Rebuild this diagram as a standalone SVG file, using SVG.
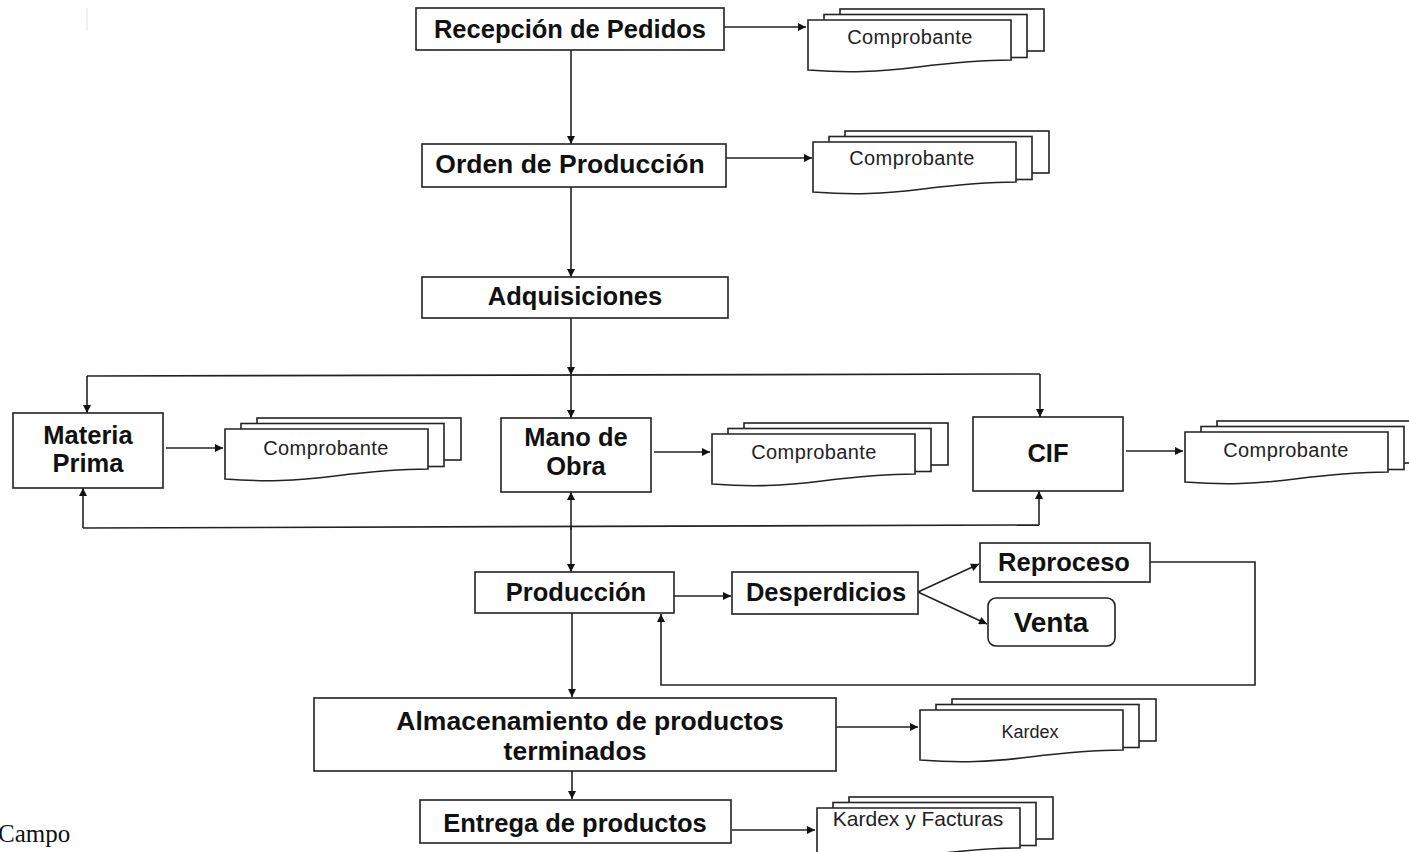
<svg xmlns="http://www.w3.org/2000/svg" xmlns:xlink="http://www.w3.org/1999/xlink" width="1409" height="852" viewBox="0 0 1409 852">
<style>
.box{fill:#fff;stroke:#222;stroke-width:1.6}
.lbl{font-family:"Liberation Sans",Arial,sans-serif;font-weight:bold;font-size:25.5px;fill:#111;text-anchor:middle}
.doc{font-family:"Liberation Sans",Arial,sans-serif;font-size:20px;fill:#222;text-anchor:middle;letter-spacing:0.4px}
.ln{fill:none;stroke:#222;stroke-width:1.6}
.page{fill:#fff;stroke:#222;stroke-width:1.6}
</style>
<defs>
<marker id="ah" viewBox="0 0 10 10" refX="10" refY="5" markerWidth="10" markerHeight="8" markerUnits="userSpaceOnUse" orient="auto">
<path d="M0,0 L10,5 L0,10 Z" fill="#111"/>
</marker>
<g id="mdoc">
<rect class="page" x="32" y="-11" width="204" height="42"/>
<rect class="page" x="16" y="-5.5" width="203" height="43"/>
<path class="page" d="M0,0 H203 V40 C175,40 150,42 110,47 C70,52 40,53 0,50 Z"/>
</g>
</defs>
<rect width="1409" height="852" fill="#fff"/>
<line x1="87" y1="8" x2="87" y2="31" stroke="#eee" stroke-width="1.5"/>

<g id="connectors">
<path class="ln" d="M724,27 H806" marker-end="url(#ah)"/>
<path class="ln" d="M571,50 V144" marker-end="url(#ah)"/>
<path class="ln" d="M726,158 H812" marker-end="url(#ah)"/>
<path class="ln" d="M571,187 V277" marker-end="url(#ah)"/>
<path class="ln" d="M571,318 V375" marker-end="url(#ah)"/>
<path class="ln" d="M571,375 V418" marker-end="url(#ah)"/>
<path class="ln" d="M87,376 L1040,374"/>
<path class="ln" d="M87,376 V413" marker-end="url(#ah)"/>
<path class="ln" d="M1040,374 V417" marker-end="url(#ah)"/>
<path class="ln" d="M166,448 H223" marker-end="url(#ah)"/>
<path class="ln" d="M654,452 H710" marker-end="url(#ah)"/>
<path class="ln" d="M1126,451 H1183" marker-end="url(#ah)"/>
<path class="ln" d="M83,528 L1039,525"/>
<path class="ln" d="M83,528 V488" marker-end="url(#ah)"/>
<path class="ln" d="M1039,525 V491" marker-end="url(#ah)"/>
<path class="ln" d="M571,530 V492" marker-end="url(#ah)"/>
<path class="ln" d="M571,526 V572" marker-end="url(#ah)"/>
<path class="ln" d="M674,596 H731" marker-end="url(#ah)"/>
<path class="ln" d="M918,592 L979,564" marker-end="url(#ah)"/>
<path class="ln" d="M918,592 L987,624" marker-end="url(#ah)"/>
<path class="ln" d="M1150,562 H1255 V685 H661 V614" marker-end="url(#ah)"/>
<path class="ln" d="M572,613 V697" marker-end="url(#ah)"/>
<path class="ln" d="M836,727 H918" marker-end="url(#ah)"/>
<path class="ln" d="M572,771 V799" marker-end="url(#ah)"/>
<path class="ln" d="M732,830 H815" marker-end="url(#ah)"/>
</g>

<g id="recepcion"><rect class="box" x="416" y="8" width="308" height="42"/><text class="lbl" x="570" y="38">Recepción de Pedidos</text></g>
<g id="doc-recepcion"><use xlink:href="#mdoc" x="808" y="20"/><text class="doc" x="910" y="44">Comprobante</text></g>

<g id="orden"><rect class="box" x="422" y="144" width="304" height="43"/><text class="lbl" x="570" y="173" style="font-size:26.5px">Orden de Producción</text></g>
<g id="doc-orden"><use xlink:href="#mdoc" x="813" y="142"/><text class="doc" x="912" y="165">Comprobante</text></g>

<g id="adquisiciones"><rect class="box" x="422" y="277" width="306" height="41"/><text class="lbl" x="575" y="305">Adquisiciones</text></g>

<g id="materia"><rect class="box" x="13" y="413" width="150" height="75"/><text class="lbl" x="88" y="444">Materia</text><text class="lbl" x="88" y="472">Prima</text></g>
<g id="doc-materia"><use xlink:href="#mdoc" x="225" y="429"/><text class="doc" x="326" y="455">Comprobante</text></g>

<g id="mano"><rect class="box" x="501" y="418" width="150" height="74"/><text class="lbl" x="576" y="446">Mano de</text><text class="lbl" x="576" y="475">Obra</text></g>
<g id="doc-mano"><use xlink:href="#mdoc" x="712" y="434"/><text class="doc" x="814" y="459">Comprobante</text></g>

<g id="cif"><rect class="box" x="973" y="417" width="150" height="74"/><text class="lbl" x="1048" y="462">CIF</text></g>
<g id="doc-cif"><use xlink:href="#mdoc" x="1185" y="432"/><text class="doc" x="1286" y="457">Comprobante</text></g>

<g id="produccion"><rect class="box" x="475" y="572" width="199" height="41"/><text class="lbl" x="576" y="601">Producción</text></g>
<g id="desperdicios"><rect class="box" x="732" y="572" width="186" height="42"/><text class="lbl" x="826" y="601">Desperdicios</text></g>
<g id="reproceso"><rect class="box" x="980" y="543" width="170" height="39"/><text class="lbl" x="1064" y="571">Reproceso</text></g>
<g id="venta"><rect class="box" x="988" y="598" width="127" height="48" rx="8"/><text class="lbl" x="1051" y="632" style="font-size:28px">Venta</text></g>

<g id="almacenamiento"><rect class="box" x="314" y="698" width="522" height="73"/><text class="lbl" x="590" y="730" style="font-size:26.5px">Almacenamiento de productos</text><text class="lbl" x="575" y="760" style="font-size:26.5px">terminados</text></g>
<g id="doc-kardex"><use xlink:href="#mdoc" x="920" y="710"/><text class="doc" x="1030" y="738" style="font-size:18px;letter-spacing:0">Kardex</text></g>

<g id="entrega"><rect class="box" x="420" y="800" width="311" height="43"/><text class="lbl" x="575" y="832">Entrega de productos</text></g>
<g id="doc-entrega"><use xlink:href="#mdoc" x="817" y="808"/><text class="doc" x="918" y="826" style="font-size:21px;letter-spacing:0">Kardex y Facturas</text></g>

<text x="-2" y="842" style="font-family:'Liberation Serif','Times New Roman',serif;font-size:25px;fill:#111">Campo</text>
</svg>
